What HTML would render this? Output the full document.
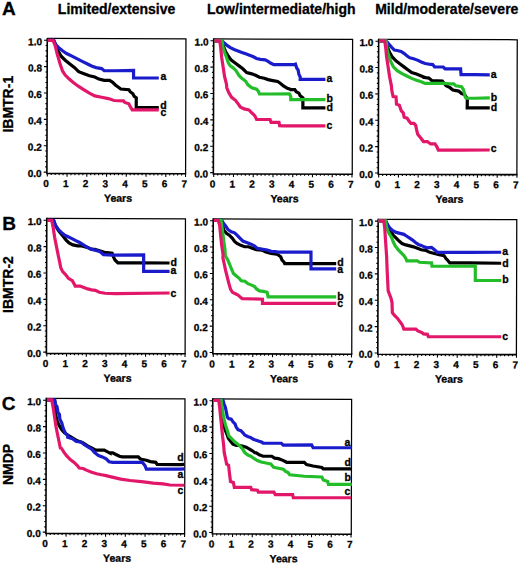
<!DOCTYPE html>
<html><head><meta charset="utf-8"><style>
html,body{margin:0;padding:0;background:#fff;}
svg{display:block;}
text{font-family:"Liberation Sans",sans-serif;font-weight:bold;fill:#000;stroke:#000;stroke-width:0.3px;}
.tl{font-size:10px;}
.yr{font-size:10.5px;}
.lb{font-size:10.5px;}
.hd{font-size:14px;}
.big{font-size:19px;}
</style></head><body>
<svg width="520" height="564" viewBox="0 0 520 564">
<g transform="rotate(0.155 260 282)"><path d="M46.6 39.07H185.3V173.97" fill="none" stroke="#000" stroke-width="1.25"/>
<path d="M46.6 38.47V173.97H185.9" fill="none" stroke="#000" stroke-width="1.6"/>
<path d="M46.6 172.72h-3.2M46.6 167.45h-1.7M46.6 162.17h-1.7M46.6 156.9h-1.7M46.6 151.62h-1.7M46.6 146.35h-3.2M46.6 141.08h-1.7M46.6 135.8h-1.7M46.6 130.53h-1.7M46.6 125.25h-1.7M46.6 119.98h-3.2M46.6 114.71h-1.7M46.6 109.43h-1.7M46.6 104.16h-1.7M46.6 98.88h-1.7M46.6 93.61h-3.2M46.6 88.34h-1.7M46.6 83.06h-1.7M46.6 77.79h-1.7M46.6 72.51h-1.7M46.6 67.24h-3.2M46.6 61.97h-1.7M46.6 56.69h-1.7M46.6 51.42h-1.7M46.6 46.14h-1.7M46.6 40.87h-3.2M47 173.97v3.2M50.95 173.97v1.7M54.9 173.97v1.7M58.85 173.97v1.7M62.8 173.97v1.7M66.75 173.97v3.2M70.7 173.97v1.7M74.65 173.97v1.7M78.6 173.97v1.7M82.55 173.97v1.7M86.5 173.97v3.2M90.45 173.97v1.7M94.4 173.97v1.7M98.35 173.97v1.7M102.3 173.97v1.7M106.25 173.97v3.2M110.2 173.97v1.7M114.15 173.97v1.7M118.1 173.97v1.7M122.05 173.97v1.7M126 173.97v3.2M129.95 173.97v1.7M133.9 173.97v1.7M137.85 173.97v1.7M141.8 173.97v1.7M145.75 173.97v3.2M149.7 173.97v1.7M153.65 173.97v1.7M157.6 173.97v1.7M161.55 173.97v1.7M165.5 173.97v3.2M169.45 173.97v1.7M173.4 173.97v1.7M177.35 173.97v1.7M181.3 173.97v1.7M185.25 173.97v3.2" stroke="#000" stroke-width="1.1" fill="none"/>
<text x="41.4" y="177.62" text-anchor="end" class="tl">0.0</text>
<text x="41.4" y="151.25" text-anchor="end" class="tl">0.2</text>
<text x="41.4" y="124.88" text-anchor="end" class="tl">0.4</text>
<text x="41.4" y="98.51" text-anchor="end" class="tl">0.6</text>
<text x="41.4" y="72.14" text-anchor="end" class="tl">0.8</text>
<text x="41.4" y="45.77" text-anchor="end" class="tl">1.0</text>
<text x="45.8" y="187.57" text-anchor="middle" class="tl">0</text>
<text x="65.55" y="187.57" text-anchor="middle" class="tl">1</text>
<text x="85.3" y="187.57" text-anchor="middle" class="tl">2</text>
<text x="105.05" y="187.57" text-anchor="middle" class="tl">3</text>
<text x="124.8" y="187.57" text-anchor="middle" class="tl">4</text>
<text x="144.55" y="187.57" text-anchor="middle" class="tl">5</text>
<text x="164.3" y="187.57" text-anchor="middle" class="tl">6</text>
<text x="184.05" y="187.57" text-anchor="middle" class="tl">7</text>
<text x="117.8" y="202.17" text-anchor="middle" class="yr">Years</text>
<path d="M213.05 39.07H351.95V173.97" fill="none" stroke="#000" stroke-width="1.25"/>
<path d="M213.05 38.47V173.97H352.55" fill="none" stroke="#000" stroke-width="1.6"/>
<path d="M213.05 172.72h-3.2M213.05 167.45h-1.7M213.05 162.17h-1.7M213.05 156.9h-1.7M213.05 151.62h-1.7M213.05 146.35h-3.2M213.05 141.08h-1.7M213.05 135.8h-1.7M213.05 130.53h-1.7M213.05 125.25h-1.7M213.05 119.98h-3.2M213.05 114.71h-1.7M213.05 109.43h-1.7M213.05 104.16h-1.7M213.05 98.88h-1.7M213.05 93.61h-3.2M213.05 88.34h-1.7M213.05 83.06h-1.7M213.05 77.79h-1.7M213.05 72.51h-1.7M213.05 67.24h-3.2M213.05 61.97h-1.7M213.05 56.69h-1.7M213.05 51.42h-1.7M213.05 46.14h-1.7M213.05 40.87h-3.2M213.45 173.97v3.2M217.4 173.97v1.7M221.35 173.97v1.7M225.3 173.97v1.7M229.25 173.97v1.7M233.2 173.97v3.2M237.15 173.97v1.7M241.1 173.97v1.7M245.05 173.97v1.7M249 173.97v1.7M252.95 173.97v3.2M256.9 173.97v1.7M260.85 173.97v1.7M264.8 173.97v1.7M268.75 173.97v1.7M272.7 173.97v3.2M276.65 173.97v1.7M280.6 173.97v1.7M284.55 173.97v1.7M288.5 173.97v1.7M292.45 173.97v3.2M296.4 173.97v1.7M300.35 173.97v1.7M304.3 173.97v1.7M308.25 173.97v1.7M312.2 173.97v3.2M316.15 173.97v1.7M320.1 173.97v1.7M324.05 173.97v1.7M328 173.97v1.7M331.95 173.97v3.2M335.9 173.97v1.7M339.85 173.97v1.7M343.8 173.97v1.7M347.75 173.97v1.7M351.7 173.97v3.2" stroke="#000" stroke-width="1.1" fill="none"/>
<text x="207.85" y="177.62" text-anchor="end" class="tl">0.0</text>
<text x="207.85" y="151.25" text-anchor="end" class="tl">0.2</text>
<text x="207.85" y="124.88" text-anchor="end" class="tl">0.4</text>
<text x="207.85" y="98.51" text-anchor="end" class="tl">0.6</text>
<text x="207.85" y="72.14" text-anchor="end" class="tl">0.8</text>
<text x="207.85" y="45.77" text-anchor="end" class="tl">1.0</text>
<text x="212.25" y="187.57" text-anchor="middle" class="tl">0</text>
<text x="232" y="187.57" text-anchor="middle" class="tl">1</text>
<text x="251.75" y="187.57" text-anchor="middle" class="tl">2</text>
<text x="271.5" y="187.57" text-anchor="middle" class="tl">3</text>
<text x="291.25" y="187.57" text-anchor="middle" class="tl">4</text>
<text x="311" y="187.57" text-anchor="middle" class="tl">5</text>
<text x="330.75" y="187.57" text-anchor="middle" class="tl">6</text>
<text x="350.5" y="187.57" text-anchor="middle" class="tl">7</text>
<text x="284.25" y="202.17" text-anchor="middle" class="yr">Years</text>
<path d="M378 39.07H516.6V173.97" fill="none" stroke="#000" stroke-width="1.25"/>
<path d="M378 38.47V173.97H517.2" fill="none" stroke="#000" stroke-width="1.6"/>
<path d="M378 172.72h-3.2M378 167.45h-1.7M378 162.17h-1.7M378 156.9h-1.7M378 151.62h-1.7M378 146.35h-3.2M378 141.08h-1.7M378 135.8h-1.7M378 130.53h-1.7M378 125.25h-1.7M378 119.98h-3.2M378 114.71h-1.7M378 109.43h-1.7M378 104.16h-1.7M378 98.88h-1.7M378 93.61h-3.2M378 88.34h-1.7M378 83.06h-1.7M378 77.79h-1.7M378 72.51h-1.7M378 67.24h-3.2M378 61.97h-1.7M378 56.69h-1.7M378 51.42h-1.7M378 46.14h-1.7M378 40.87h-3.2M378.4 173.97v3.2M382.35 173.97v1.7M386.3 173.97v1.7M390.25 173.97v1.7M394.2 173.97v1.7M398.15 173.97v3.2M402.1 173.97v1.7M406.05 173.97v1.7M410 173.97v1.7M413.95 173.97v1.7M417.9 173.97v3.2M421.85 173.97v1.7M425.8 173.97v1.7M429.75 173.97v1.7M433.7 173.97v1.7M437.65 173.97v3.2M441.6 173.97v1.7M445.55 173.97v1.7M449.5 173.97v1.7M453.45 173.97v1.7M457.4 173.97v3.2M461.35 173.97v1.7M465.3 173.97v1.7M469.25 173.97v1.7M473.2 173.97v1.7M477.15 173.97v3.2M481.1 173.97v1.7M485.05 173.97v1.7M489 173.97v1.7M492.95 173.97v1.7M496.9 173.97v3.2M500.85 173.97v1.7M504.8 173.97v1.7M508.75 173.97v1.7M512.7 173.97v1.7M516.65 173.97v3.2" stroke="#000" stroke-width="1.1" fill="none"/>
<text x="372.8" y="177.62" text-anchor="end" class="tl">0.0</text>
<text x="372.8" y="151.25" text-anchor="end" class="tl">0.2</text>
<text x="372.8" y="124.88" text-anchor="end" class="tl">0.4</text>
<text x="372.8" y="98.51" text-anchor="end" class="tl">0.6</text>
<text x="372.8" y="72.14" text-anchor="end" class="tl">0.8</text>
<text x="372.8" y="45.77" text-anchor="end" class="tl">1.0</text>
<text x="377.2" y="187.57" text-anchor="middle" class="tl">0</text>
<text x="396.95" y="187.57" text-anchor="middle" class="tl">1</text>
<text x="416.7" y="187.57" text-anchor="middle" class="tl">2</text>
<text x="436.45" y="187.57" text-anchor="middle" class="tl">3</text>
<text x="456.2" y="187.57" text-anchor="middle" class="tl">4</text>
<text x="475.95" y="187.57" text-anchor="middle" class="tl">5</text>
<text x="495.7" y="187.57" text-anchor="middle" class="tl">6</text>
<text x="515.45" y="187.57" text-anchor="middle" class="tl">7</text>
<text x="449.2" y="202.17" text-anchor="middle" class="yr">Years</text>
<path d="M46.6 219.03H185.3V353.93" fill="none" stroke="#000" stroke-width="1.25"/>
<path d="M46.6 218.43V353.93H185.9" fill="none" stroke="#000" stroke-width="1.6"/>
<path d="M46.6 352.68h-3.2M46.6 347.41h-1.7M46.6 342.13h-1.7M46.6 336.86h-1.7M46.6 331.58h-1.7M46.6 326.31h-3.2M46.6 321.04h-1.7M46.6 315.76h-1.7M46.6 310.49h-1.7M46.6 305.21h-1.7M46.6 299.94h-3.2M46.6 294.67h-1.7M46.6 289.39h-1.7M46.6 284.12h-1.7M46.6 278.84h-1.7M46.6 273.57h-3.2M46.6 268.3h-1.7M46.6 263.02h-1.7M46.6 257.75h-1.7M46.6 252.47h-1.7M46.6 247.2h-3.2M46.6 241.93h-1.7M46.6 236.65h-1.7M46.6 231.38h-1.7M46.6 226.1h-1.7M46.6 220.83h-3.2M47 353.93v3.2M50.95 353.93v1.7M54.9 353.93v1.7M58.85 353.93v1.7M62.8 353.93v1.7M66.75 353.93v3.2M70.7 353.93v1.7M74.65 353.93v1.7M78.6 353.93v1.7M82.55 353.93v1.7M86.5 353.93v3.2M90.45 353.93v1.7M94.4 353.93v1.7M98.35 353.93v1.7M102.3 353.93v1.7M106.25 353.93v3.2M110.2 353.93v1.7M114.15 353.93v1.7M118.1 353.93v1.7M122.05 353.93v1.7M126 353.93v3.2M129.95 353.93v1.7M133.9 353.93v1.7M137.85 353.93v1.7M141.8 353.93v1.7M145.75 353.93v3.2M149.7 353.93v1.7M153.65 353.93v1.7M157.6 353.93v1.7M161.55 353.93v1.7M165.5 353.93v3.2M169.45 353.93v1.7M173.4 353.93v1.7M177.35 353.93v1.7M181.3 353.93v1.7M185.25 353.93v3.2" stroke="#000" stroke-width="1.1" fill="none"/>
<text x="41.4" y="357.58" text-anchor="end" class="tl">0.0</text>
<text x="41.4" y="331.21" text-anchor="end" class="tl">0.2</text>
<text x="41.4" y="304.84" text-anchor="end" class="tl">0.4</text>
<text x="41.4" y="278.47" text-anchor="end" class="tl">0.6</text>
<text x="41.4" y="252.1" text-anchor="end" class="tl">0.8</text>
<text x="41.4" y="225.73" text-anchor="end" class="tl">1.0</text>
<text x="45.8" y="367.53" text-anchor="middle" class="tl">0</text>
<text x="65.55" y="367.53" text-anchor="middle" class="tl">1</text>
<text x="85.3" y="367.53" text-anchor="middle" class="tl">2</text>
<text x="105.05" y="367.53" text-anchor="middle" class="tl">3</text>
<text x="124.8" y="367.53" text-anchor="middle" class="tl">4</text>
<text x="144.55" y="367.53" text-anchor="middle" class="tl">5</text>
<text x="164.3" y="367.53" text-anchor="middle" class="tl">6</text>
<text x="184.05" y="367.53" text-anchor="middle" class="tl">7</text>
<text x="117.8" y="382.13" text-anchor="middle" class="yr">Years</text>
<path d="M213.05 219.03H351.95V353.93" fill="none" stroke="#000" stroke-width="1.25"/>
<path d="M213.05 218.43V353.93H352.55" fill="none" stroke="#000" stroke-width="1.6"/>
<path d="M213.05 352.68h-3.2M213.05 347.41h-1.7M213.05 342.13h-1.7M213.05 336.86h-1.7M213.05 331.58h-1.7M213.05 326.31h-3.2M213.05 321.04h-1.7M213.05 315.76h-1.7M213.05 310.49h-1.7M213.05 305.21h-1.7M213.05 299.94h-3.2M213.05 294.67h-1.7M213.05 289.39h-1.7M213.05 284.12h-1.7M213.05 278.84h-1.7M213.05 273.57h-3.2M213.05 268.3h-1.7M213.05 263.02h-1.7M213.05 257.75h-1.7M213.05 252.47h-1.7M213.05 247.2h-3.2M213.05 241.93h-1.7M213.05 236.65h-1.7M213.05 231.38h-1.7M213.05 226.1h-1.7M213.05 220.83h-3.2M213.45 353.93v3.2M217.4 353.93v1.7M221.35 353.93v1.7M225.3 353.93v1.7M229.25 353.93v1.7M233.2 353.93v3.2M237.15 353.93v1.7M241.1 353.93v1.7M245.05 353.93v1.7M249 353.93v1.7M252.95 353.93v3.2M256.9 353.93v1.7M260.85 353.93v1.7M264.8 353.93v1.7M268.75 353.93v1.7M272.7 353.93v3.2M276.65 353.93v1.7M280.6 353.93v1.7M284.55 353.93v1.7M288.5 353.93v1.7M292.45 353.93v3.2M296.4 353.93v1.7M300.35 353.93v1.7M304.3 353.93v1.7M308.25 353.93v1.7M312.2 353.93v3.2M316.15 353.93v1.7M320.1 353.93v1.7M324.05 353.93v1.7M328 353.93v1.7M331.95 353.93v3.2M335.9 353.93v1.7M339.85 353.93v1.7M343.8 353.93v1.7M347.75 353.93v1.7M351.7 353.93v3.2" stroke="#000" stroke-width="1.1" fill="none"/>
<text x="207.85" y="357.58" text-anchor="end" class="tl">0.0</text>
<text x="207.85" y="331.21" text-anchor="end" class="tl">0.2</text>
<text x="207.85" y="304.84" text-anchor="end" class="tl">0.4</text>
<text x="207.85" y="278.47" text-anchor="end" class="tl">0.6</text>
<text x="207.85" y="252.1" text-anchor="end" class="tl">0.8</text>
<text x="207.85" y="225.73" text-anchor="end" class="tl">1.0</text>
<text x="212.25" y="367.53" text-anchor="middle" class="tl">0</text>
<text x="232" y="367.53" text-anchor="middle" class="tl">1</text>
<text x="251.75" y="367.53" text-anchor="middle" class="tl">2</text>
<text x="271.5" y="367.53" text-anchor="middle" class="tl">3</text>
<text x="291.25" y="367.53" text-anchor="middle" class="tl">4</text>
<text x="311" y="367.53" text-anchor="middle" class="tl">5</text>
<text x="330.75" y="367.53" text-anchor="middle" class="tl">6</text>
<text x="350.5" y="367.53" text-anchor="middle" class="tl">7</text>
<text x="284.25" y="382.13" text-anchor="middle" class="yr">Years</text>
<path d="M378 219.03H516.6V353.93" fill="none" stroke="#000" stroke-width="1.25"/>
<path d="M378 218.43V353.93H517.2" fill="none" stroke="#000" stroke-width="1.6"/>
<path d="M378 352.68h-3.2M378 347.41h-1.7M378 342.13h-1.7M378 336.86h-1.7M378 331.58h-1.7M378 326.31h-3.2M378 321.04h-1.7M378 315.76h-1.7M378 310.49h-1.7M378 305.21h-1.7M378 299.94h-3.2M378 294.67h-1.7M378 289.39h-1.7M378 284.12h-1.7M378 278.84h-1.7M378 273.57h-3.2M378 268.3h-1.7M378 263.02h-1.7M378 257.75h-1.7M378 252.47h-1.7M378 247.2h-3.2M378 241.93h-1.7M378 236.65h-1.7M378 231.38h-1.7M378 226.1h-1.7M378 220.83h-3.2M378.4 353.93v3.2M382.35 353.93v1.7M386.3 353.93v1.7M390.25 353.93v1.7M394.2 353.93v1.7M398.15 353.93v3.2M402.1 353.93v1.7M406.05 353.93v1.7M410 353.93v1.7M413.95 353.93v1.7M417.9 353.93v3.2M421.85 353.93v1.7M425.8 353.93v1.7M429.75 353.93v1.7M433.7 353.93v1.7M437.65 353.93v3.2M441.6 353.93v1.7M445.55 353.93v1.7M449.5 353.93v1.7M453.45 353.93v1.7M457.4 353.93v3.2M461.35 353.93v1.7M465.3 353.93v1.7M469.25 353.93v1.7M473.2 353.93v1.7M477.15 353.93v3.2M481.1 353.93v1.7M485.05 353.93v1.7M489 353.93v1.7M492.95 353.93v1.7M496.9 353.93v3.2M500.85 353.93v1.7M504.8 353.93v1.7M508.75 353.93v1.7M512.7 353.93v1.7M516.65 353.93v3.2" stroke="#000" stroke-width="1.1" fill="none"/>
<text x="372.8" y="357.58" text-anchor="end" class="tl">0.0</text>
<text x="372.8" y="331.21" text-anchor="end" class="tl">0.2</text>
<text x="372.8" y="304.84" text-anchor="end" class="tl">0.4</text>
<text x="372.8" y="278.47" text-anchor="end" class="tl">0.6</text>
<text x="372.8" y="252.1" text-anchor="end" class="tl">0.8</text>
<text x="372.8" y="225.73" text-anchor="end" class="tl">1.0</text>
<text x="377.2" y="367.53" text-anchor="middle" class="tl">0</text>
<text x="396.95" y="367.53" text-anchor="middle" class="tl">1</text>
<text x="416.7" y="367.53" text-anchor="middle" class="tl">2</text>
<text x="436.45" y="367.53" text-anchor="middle" class="tl">3</text>
<text x="456.2" y="367.53" text-anchor="middle" class="tl">4</text>
<text x="475.95" y="367.53" text-anchor="middle" class="tl">5</text>
<text x="495.7" y="367.53" text-anchor="middle" class="tl">6</text>
<text x="515.45" y="367.53" text-anchor="middle" class="tl">7</text>
<text x="449.2" y="382.13" text-anchor="middle" class="yr">Years</text>
<path d="M46.6 399.05H185.3V533.95" fill="none" stroke="#000" stroke-width="1.25"/>
<path d="M46.6 398.45V533.95H185.9" fill="none" stroke="#000" stroke-width="1.6"/>
<path d="M46.6 532.7h-3.2M46.6 527.43h-1.7M46.6 522.15h-1.7M46.6 516.88h-1.7M46.6 511.6h-1.7M46.6 506.33h-3.2M46.6 501.06h-1.7M46.6 495.78h-1.7M46.6 490.51h-1.7M46.6 485.23h-1.7M46.6 479.96h-3.2M46.6 474.69h-1.7M46.6 469.41h-1.7M46.6 464.14h-1.7M46.6 458.86h-1.7M46.6 453.59h-3.2M46.6 448.32h-1.7M46.6 443.04h-1.7M46.6 437.77h-1.7M46.6 432.49h-1.7M46.6 427.22h-3.2M46.6 421.95h-1.7M46.6 416.67h-1.7M46.6 411.4h-1.7M46.6 406.12h-1.7M46.6 400.85h-3.2M47 533.95v3.2M50.95 533.95v1.7M54.9 533.95v1.7M58.85 533.95v1.7M62.8 533.95v1.7M66.75 533.95v3.2M70.7 533.95v1.7M74.65 533.95v1.7M78.6 533.95v1.7M82.55 533.95v1.7M86.5 533.95v3.2M90.45 533.95v1.7M94.4 533.95v1.7M98.35 533.95v1.7M102.3 533.95v1.7M106.25 533.95v3.2M110.2 533.95v1.7M114.15 533.95v1.7M118.1 533.95v1.7M122.05 533.95v1.7M126 533.95v3.2M129.95 533.95v1.7M133.9 533.95v1.7M137.85 533.95v1.7M141.8 533.95v1.7M145.75 533.95v3.2M149.7 533.95v1.7M153.65 533.95v1.7M157.6 533.95v1.7M161.55 533.95v1.7M165.5 533.95v3.2M169.45 533.95v1.7M173.4 533.95v1.7M177.35 533.95v1.7M181.3 533.95v1.7M185.25 533.95v3.2" stroke="#000" stroke-width="1.1" fill="none"/>
<text x="41.4" y="537.6" text-anchor="end" class="tl">0.0</text>
<text x="41.4" y="511.23" text-anchor="end" class="tl">0.2</text>
<text x="41.4" y="484.86" text-anchor="end" class="tl">0.4</text>
<text x="41.4" y="458.49" text-anchor="end" class="tl">0.6</text>
<text x="41.4" y="432.12" text-anchor="end" class="tl">0.8</text>
<text x="41.4" y="405.75" text-anchor="end" class="tl">1.0</text>
<text x="45.8" y="547.55" text-anchor="middle" class="tl">0</text>
<text x="65.55" y="547.55" text-anchor="middle" class="tl">1</text>
<text x="85.3" y="547.55" text-anchor="middle" class="tl">2</text>
<text x="105.05" y="547.55" text-anchor="middle" class="tl">3</text>
<text x="124.8" y="547.55" text-anchor="middle" class="tl">4</text>
<text x="144.55" y="547.55" text-anchor="middle" class="tl">5</text>
<text x="164.3" y="547.55" text-anchor="middle" class="tl">6</text>
<text x="184.05" y="547.55" text-anchor="middle" class="tl">7</text>
<text x="117.8" y="562.15" text-anchor="middle" class="yr">Years</text>
<path d="M213.05 399.05H351.95V533.95" fill="none" stroke="#000" stroke-width="1.25"/>
<path d="M213.05 398.45V533.95H352.55" fill="none" stroke="#000" stroke-width="1.6"/>
<path d="M213.05 532.7h-3.2M213.05 527.43h-1.7M213.05 522.15h-1.7M213.05 516.88h-1.7M213.05 511.6h-1.7M213.05 506.33h-3.2M213.05 501.06h-1.7M213.05 495.78h-1.7M213.05 490.51h-1.7M213.05 485.23h-1.7M213.05 479.96h-3.2M213.05 474.69h-1.7M213.05 469.41h-1.7M213.05 464.14h-1.7M213.05 458.86h-1.7M213.05 453.59h-3.2M213.05 448.32h-1.7M213.05 443.04h-1.7M213.05 437.77h-1.7M213.05 432.49h-1.7M213.05 427.22h-3.2M213.05 421.95h-1.7M213.05 416.67h-1.7M213.05 411.4h-1.7M213.05 406.12h-1.7M213.05 400.85h-3.2M213.45 533.95v3.2M217.4 533.95v1.7M221.35 533.95v1.7M225.3 533.95v1.7M229.25 533.95v1.7M233.2 533.95v3.2M237.15 533.95v1.7M241.1 533.95v1.7M245.05 533.95v1.7M249 533.95v1.7M252.95 533.95v3.2M256.9 533.95v1.7M260.85 533.95v1.7M264.8 533.95v1.7M268.75 533.95v1.7M272.7 533.95v3.2M276.65 533.95v1.7M280.6 533.95v1.7M284.55 533.95v1.7M288.5 533.95v1.7M292.45 533.95v3.2M296.4 533.95v1.7M300.35 533.95v1.7M304.3 533.95v1.7M308.25 533.95v1.7M312.2 533.95v3.2M316.15 533.95v1.7M320.1 533.95v1.7M324.05 533.95v1.7M328 533.95v1.7M331.95 533.95v3.2M335.9 533.95v1.7M339.85 533.95v1.7M343.8 533.95v1.7M347.75 533.95v1.7M351.7 533.95v3.2" stroke="#000" stroke-width="1.1" fill="none"/>
<text x="207.85" y="537.6" text-anchor="end" class="tl">0.0</text>
<text x="207.85" y="511.23" text-anchor="end" class="tl">0.2</text>
<text x="207.85" y="484.86" text-anchor="end" class="tl">0.4</text>
<text x="207.85" y="458.49" text-anchor="end" class="tl">0.6</text>
<text x="207.85" y="432.12" text-anchor="end" class="tl">0.8</text>
<text x="207.85" y="405.75" text-anchor="end" class="tl">1.0</text>
<text x="212.25" y="547.55" text-anchor="middle" class="tl">0</text>
<text x="232" y="547.55" text-anchor="middle" class="tl">1</text>
<text x="251.75" y="547.55" text-anchor="middle" class="tl">2</text>
<text x="271.5" y="547.55" text-anchor="middle" class="tl">3</text>
<text x="291.25" y="547.55" text-anchor="middle" class="tl">4</text>
<text x="311" y="547.55" text-anchor="middle" class="tl">5</text>
<text x="330.75" y="547.55" text-anchor="middle" class="tl">6</text>
<text x="350.5" y="547.55" text-anchor="middle" class="tl">7</text>
<text x="284.25" y="562.15" text-anchor="middle" class="yr">Years</text></g>
<path d="M47.69 40.44 53.75 40.44 55.77 45.42 58.46 51.48 61.15 56.19 65.19 60.23 69.23 63.6 74.62 67.63 78.65 71.67 84.04 73.69 89.42 75.71 94.81 77.06 98.85 79.08 104.23 80.42 109.62 80.42 112.69 82.31 115.38 85 118.08 87.02 120.77 89.04 128.85 89.71 130.19 91.73 132.88 93.75 134.23 96.44 136.25 97.79 136.25 107.62 158.79 107.62" fill="none" stroke="#000" stroke-width="3.2" stroke-linejoin="miter" stroke-linecap="butt"/>
<path d="M47.69 40.44 53.75 40.44 55.77 44.75 58.46 47.44 62.5 50.81 66.54 53.5 71.92 56.19 77.31 58.88 82.69 61.58 88.08 64.27 92.12 66.29 96.15 67.63 101.54 68.58 104.23 70.73 115 70.73 133.56 70.46 133.56 78 158.79 78" fill="none" stroke="#1a1ccc" stroke-width="3.2" stroke-linejoin="miter" stroke-linecap="butt"/>
<path d="M47.69 40.44 53.08 40.44 55.1 45.42 57.12 53.5 59.81 62.92 62.5 71 65.19 75.04 69.23 79.08 73.27 82.44 78.65 86.48 84.04 89.85 89.42 93.21 94.81 95.9 101.54 97.25 108.27 98.6 114.04 100.48 123.46 100.88 124.81 102.5 128.85 103.85 130.19 106.54 132.21 109.9 158.79 109.9" fill="none" stroke="#e2176a" stroke-width="3.2" stroke-linejoin="miter" stroke-linecap="butt"/>
<text x="160.5" y="80.3" class="lb">a</text>
<text x="160.2" y="108.7" class="lb">d</text>
<text x="160.4" y="115.5" class="lb">c</text>
<path d="M214.44 40.88 222.13 40.88 223.58 46.65 225.5 51.46 228.38 56.27 231.27 60.12 235.12 63 238.96 65.88 242.81 68.77 246.65 72.62 251.73 73.85 255.58 75.29 259.42 77.21 264.23 78.17 268.08 79.62 272.88 80.58 277.69 81.54 280.58 83.46 283.46 85.87 287.31 88.27 290.19 89.23 290.77 89.71 294.81 89.71 296.15 91.73 298.85 93.08 300.19 95.77 302.88 97.79 302.88 107.88 325.42 107.88" fill="none" stroke="#000" stroke-width="3.2" stroke-linejoin="miter" stroke-linecap="butt"/>
<path d="M214.44 40.88 222.13 40.88 224.54 43.29 227.42 45.69 230.31 47.62 234.15 49.54 238 50.98 241.85 52.42 245.69 53.87 249.54 55.31 253.38 56.75 256.54 58.46 260.38 59.42 265.19 59.9 268.08 61.35 270.96 63.27 273.85 64.71 294.04 64.71 295.48 64.13 296.83 68.17 298.17 70.19 298.85 74.23 300.19 76.92 300.19 79.35 325.42 79.35" fill="none" stroke="#1a1ccc" stroke-width="3.2" stroke-linejoin="miter" stroke-linecap="butt"/>
<path d="M214.44 40.88 222.13 40.88 223.1 47.62 224.54 52.42 226.46 57.23 228.38 63 230.31 65.88 233.19 67.81 236.08 70.69 238.96 75.5 241.85 78.38 245.69 81.27 247.96 84.88 251.81 87.77 256.62 89.21 258.54 91.62 259.5 94.02 272 94.02 289.42 93.75 290.77 96.44 290.77 99.54 325.42 99.54" fill="none" stroke="#22bd28" stroke-width="3.2" stroke-linejoin="miter" stroke-linecap="butt"/>
<path d="M214.44 40.88 219.73 40.88 220.69 47.62 221.65 57.23 223.1 66.85 224.54 76.46 226.46 84.15 226.81 87.77 228.73 92.58 231.62 97.38 235.46 100.27 238.35 104.12 240.27 107 244.12 108.92 248.92 109.88 251.81 112.77 254.69 115.65 256.62 119.5 270.08 119.5 271.04 122.38 278.96 122.31 279.63 125.67 283 125.9 325.4 125.9" fill="none" stroke="#e2176a" stroke-width="3.2" stroke-linejoin="miter" stroke-linecap="butt"/>
<text x="326.4" y="82.3" class="lb">a</text>
<text x="326.4" y="101.82" class="lb">b</text>
<text x="326.4" y="110.57" class="lb">d</text>
<text x="326.4" y="128.94" class="lb">c</text>
<path d="M379.44 40.88 386.17 40.88 387.62 47.62 389.54 52.42 392.42 57.23 396.27 61.08 400.12 63.96 403.96 66.85 407.81 69.73 411.65 72.62 416.46 74.06 421.27 75.98 425.12 77.42 425 77.6 428.85 78.08 431.73 80.48 442.31 80.96 446.15 85.77 450 87.69 452.88 90.1 458.65 91.06 461.54 93.46 464.42 94.42 466.35 97.31 467.31 99.23 467.21 107.88 489.75 107.88" fill="none" stroke="#000" stroke-width="3.2" stroke-linejoin="miter" stroke-linecap="butt"/>
<path d="M379.44 40.88 386.17 40.88 388.58 43.77 391.46 47.13 394.35 50.02 397.23 50.5 401.08 51.46 403.96 53.38 406.85 55.79 409.73 57.71 413.58 58.67 417.42 60.12 421.27 62.04 425.12 63.48 428 63.96 428.85 64.13 432.69 64.62 434.62 67.02 443.27 67.02 445.19 68.94 460.58 68.94 461.06 74.71 475 74.71 489.75 74.9" fill="none" stroke="#1a1ccc" stroke-width="3.2" stroke-linejoin="miter" stroke-linecap="butt"/>
<path d="M379.44 40.88 386.17 40.88 387.13 49.54 388.58 55.31 390.5 61.08 393.38 66.85 397.23 70.69 402.04 73.58 406.85 75.98 411.65 78.38 416.46 80.31 421.27 81.75 425 83.37 444.23 83.37 450 83.85 453.85 83.85 455.77 85.77 461.54 86.73 463.46 89.62 464.42 93.46 465.38 97.31 466.35 98.27 475 98.27 489.75 97.79" fill="none" stroke="#22bd28" stroke-width="3.2" stroke-linejoin="miter" stroke-linecap="butt"/>
<path d="M379.44 40.88 384.73 40.88 385.69 47.62 386.65 57.23 388.1 66.85 389.54 76.46 391.46 86.08 391.69 89.77 393.13 96.5 396.02 96.98 396.5 104.19 399.38 105.15 401.31 110.92 403.23 112.85 404.19 117.17 407.08 118.13 409 121.02 410.92 123.42 413.81 123.42 415.73 125.35 416.69 130.15 417.69 134.35 420.58 137.71 423.46 141.56 427.31 141.56 430.67 143.96 435 143.96 436.92 146.85 438.37 150.21 460 150.21 489.75 149.98" fill="none" stroke="#e2176a" stroke-width="3.2" stroke-linejoin="miter" stroke-linecap="butt"/>
<text x="490.76" y="77.59" class="lb">a</text>
<text x="490.76" y="101.14" class="lb">b</text>
<text x="490.76" y="111.24" class="lb">d</text>
<text x="490.76" y="152.4" class="lb">c</text>
<path d="M47.4 220.4 53.65 220.4 55.58 225.69 58.46 230.5 62.31 235.31 66.15 240.12 69.04 243 72.88 244.92 77.69 245.88 81.54 245.88 87.31 247.33 91.15 249.25 94.81 249.42 99.62 250.87 104.42 252.31 112.12 253.27 113.56 257.12 115 260 117.88 262.88 140 262.88 169.56 262.98" fill="none" stroke="#000" stroke-width="3.2" stroke-linejoin="miter" stroke-linecap="butt"/>
<path d="M47.4 220.4 53.65 220.4 55.58 225.69 58.46 229.54 61.35 232.42 64.23 234.83 68.08 236.75 71.92 238.67 75.77 240.6 79.62 242.52 83.46 244.92 87.31 247.33 91.15 249.25 95 250.21 94.81 249.9 99.62 251.35 103.46 254.71 113.08 255.19 143.65 254.9 143.65 271.46 169.56 271.46" fill="none" stroke="#1a1ccc" stroke-width="3.2" stroke-linejoin="miter" stroke-linecap="butt"/>
<path d="M47.4 220.4 51.73 220.4 53.17 227.62 54.62 237.23 56.54 246.85 58.46 256.46 59.9 263.19 60.77 267.77 62.69 271.62 65.58 274.5 68.46 278.35 72.31 280.75 74.23 284.12 75.19 286.04 80 286.04 83.85 287.48 87.69 288.92 91.54 289.88 95.38 290.37 99.23 292.29 105 293.25 115 293.56 169.56 293" fill="none" stroke="#e2176a" stroke-width="3.2" stroke-linejoin="miter" stroke-linecap="butt"/>
<text x="170.57" y="265.67" class="lb">d</text>
<text x="170.57" y="274.41" class="lb">a</text>
<text x="170.57" y="296.62" class="lb">c</text>
<path d="M213.92 220.33 221.62 220.33 222.58 225.62 224.02 230.42 226.42 233.31 229.31 235.23 232.19 238.12 234.6 241.48 237 243.4 240.85 245.33 244.69 246.77 248.54 246.77 252.38 248.21 256.23 249.65 262 250.13 265.85 252.02 271.23 253.37 276.62 254.04 278 254.81 280.69 256.83 282.04 260.19 284.06 262.21 284.73 263.56 336.21 263.56" fill="none" stroke="#000" stroke-width="3.2" stroke-linejoin="miter" stroke-linecap="butt"/>
<path d="M213.92 220.33 221.62 220.33 223.06 222.73 225.46 225.62 227.87 229.46 231.23 231.87 234.6 232.83 237 235.23 239.88 238.12 242.77 241 246.62 242.44 250.46 243.88 254.31 245.81 257.19 248.21 262 249.17 267.19 250 271.23 251.35 275.27 251.62 278 252.12 310.98 252.12 310.98 268.94 336.21 268.94" fill="none" stroke="#1a1ccc" stroke-width="3.2" stroke-linejoin="miter" stroke-linecap="butt"/>
<path d="M213.92 220.33 221.13 220.33 222.1 227.54 223.06 235.23 224.02 242.92 224.98 249.65 225.29 255.77 227.69 259.62 229.62 264.42 231.54 269.23 233.46 273.56 236.35 275.96 239.23 278.37 241.15 280.77 245 281.25 247.88 283.65 251.73 285.1 254.62 286.54 256.54 288.94 259.42 290.87 263.27 291.35 267.12 292.31 268.1 296.9 336.2 296.9" fill="none" stroke="#22bd28" stroke-width="3.2" stroke-linejoin="miter" stroke-linecap="butt"/>
<path d="M213.92 220.33 218.25 220.33 219.69 225.62 220.65 235.23 221.62 244.85 223.06 254.46 222.88 257.69 224.33 264.42 225.77 271.15 227.21 276.92 228.65 282.69 230.58 289.42 232.5 292.31 235.38 293.75 238.27 295.19 240.19 297.12 242.12 298.56 262.48 299.23 262.5 303.3 336.2 303.3" fill="none" stroke="#e2176a" stroke-width="3.2" stroke-linejoin="miter" stroke-linecap="butt"/>
<text x="337.22" y="265.57" class="lb">d</text>
<text x="337.22" y="272.97" class="lb">a</text>
<text x="337.22" y="299.89" class="lb">b</text>
<text x="337.22" y="306.62" class="lb">c</text>
<path d="M378.44 220.88 385.65 220.88 387.58 225.69 390.46 231.46 393.35 235.31 396.23 238.19 399.12 241.08 402 243.48 405.85 244.92 409.69 245.88 413.54 246.85 417.38 248.29 421.23 249.73 425.77 250.38 429.62 252.31 433.46 253.27 439.23 254.71 444.04 255.67 445.96 258.56 447.88 260.48 449.81 262.88 470 262.88 501.21 263.27" fill="none" stroke="#000" stroke-width="3.2" stroke-linejoin="miter" stroke-linecap="butt"/>
<path d="M378.44 220.88 385.65 220.88 387.58 224.73 389.5 227.62 392.38 230.5 396.23 232.42 400.08 233.38 403.92 234.35 406.81 236.27 409.69 238.19 412.58 240.12 415.46 242.52 418.35 244.44 421.23 245.4 424.12 246.85 427 247.81 431.54 247.5 435.38 250.38 437.31 252.31 470 252.31 501.21 252.23" fill="none" stroke="#1a1ccc" stroke-width="3.2" stroke-linejoin="miter" stroke-linecap="butt"/>
<path d="M378.44 220.88 385.65 220.88 386.62 227.62 388.54 232.42 391.42 237.23 393.35 242.04 395.27 245.88 398.15 249.73 401.04 252.62 403.92 255.5 405.85 258.38 406.81 260.79 417.38 260.79 419.31 262.23 427 262.71 431.54 262.88 432.02 266.25 470 266.25 475.31 265.96 475.31 280.5 501.21 280.5" fill="none" stroke="#22bd28" stroke-width="3.2" stroke-linejoin="miter" stroke-linecap="butt"/>
<path d="M378.44 220.88 383.73 220.88 384.69 227.62 385.65 242.04 386.62 256.46 387.21 271.62 387.69 281.23 388.17 290.85 389.62 294.69 391.06 298.54 392.02 302.38 392.33 312.69 394.73 315.58 397.62 318.46 400.5 322.31 402.42 325.19 403.87 329.04 415.88 329.04 417.81 330.96 421.65 332.4 423.58 333.85 427.42 334.33 428.38 336.73 438 336.73 501.21 336.75" fill="none" stroke="#e2176a" stroke-width="3.2" stroke-linejoin="miter" stroke-linecap="butt"/>
<text x="502.22" y="255.19" class="lb">a</text>
<text x="502.22" y="266.63" class="lb">d</text>
<text x="502.22" y="283.45" class="lb">b</text>
<text x="502.22" y="339.7" class="lb">c</text>
<path d="M46.92 399.92 54.62 399.92 55.58 407.62 56.06 416.27 57.5 422.04 59.42 425.88 61.83 429.73 64.23 432.62 67.12 434.54 70 436.46 77.31 440.77 82.69 442.79 88.08 446.15 92.12 448.17 95.58 450.19 104.23 450.19 107.12 451.63 110 453.08 110 452.88 112.69 452.88 115.38 454.23 119.42 456.25 122.12 456.92 138.27 456.92 140.29 458.94 146.35 460.29 150.38 461.63 155.77 462.31 157.12 464.33 180 464.6 184.42 464.46" fill="none" stroke="#000" stroke-width="3.2" stroke-linejoin="miter" stroke-linecap="butt"/>
<path d="M46.92 399.92 54.62 399.92 55.58 404.73 57.02 406.65 57.98 412.42 59.42 414.35 59.9 419.15 61.83 423 62.79 426.85 64.23 430.69 65.67 433.58 67.6 435.5 67.69 437.21 72.5 438.65 76.35 441.54 81.15 442.02 84.04 444.42 87.88 446.83 91.73 449.23 94.62 452.6 98.46 455.48 102.31 456.92 106.15 458.85 109.04 461.73 112.69 462.31 142.31 462.31 145 465.67 146.35 469.04 180 469.04 184.42 468.85" fill="none" stroke="#1a1ccc" stroke-width="3.2" stroke-linejoin="miter" stroke-linecap="butt"/>
<path d="M46.92 399.92 51.73 399.92 53.17 407.62 54.62 417.23 56.06 426.85 57.98 436.46 60.38 448 61.44 448.27 63.85 452.12 66.73 455.96 70.58 459.81 74.42 462.69 77.31 465.58 79.23 467.98 83.08 468.46 86.92 470.38 91.73 472.31 96.54 473.75 101.35 474.71 106.15 475.67 110 476.63 120.77 479.13 130.19 480.48 143.65 481.83 153.08 483.17 163.08 483.85 170 485 184.42 485.23" fill="none" stroke="#e2176a" stroke-width="3.2" stroke-linejoin="miter" stroke-linecap="butt"/>
<text x="177.2" y="461.3" class="lb">d</text>
<text x="177.5" y="478.1" class="lb">a</text>
<text x="177.5" y="493.6" class="lb">c</text>
<path d="M213.92 400.4 220.65 400.4 221.62 407.62 222.58 417.23 223.54 424.92 225.46 430.69 227.38 435.5 228.3 438.3 230.6 441.2 232.9 444.1 236.4 445.3 239.8 445.5 243.3 446.4 246.2 447.2 249.1 448.8 252 450.6 254.9 452.8 256.35 452.88 259.23 454.81 263.08 456.25 271.73 456.25 274.62 458.17 278.46 458.65 282.31 460.1 286.15 462.02 286.77 462.38 304.31 462.38 306.5 464.58 313.08 466.04 321.85 467.5 323.31 468.96 351.81 468.96" fill="none" stroke="#000" stroke-width="3.2" stroke-linejoin="miter" stroke-linecap="butt"/>
<path d="M213.92 400.4 223.06 400.4 224.02 403.77 225.46 407.62 226.42 412.42 227.38 417.23 228.83 418.67 231.23 419.15 233.15 422.04 235.08 423.96 236.04 426.85 237.96 429.73 240.85 430.69 242.77 432.62 244.69 435.02 247.58 436.46 250.46 437.42 253.35 439.35 256.23 440.31 259.12 441.27 262 442.23 263.08 443.27 281.35 443.27 283.27 445.19 311.62 444.85 313.08 447.77 351.81 447.77" fill="none" stroke="#1a1ccc" stroke-width="3.2" stroke-linejoin="miter" stroke-linecap="butt"/>
<path d="M213.92 400.4 221.13 400.4 222.1 407.62 223.54 417.23 225.46 424.92 227.38 430.69 228.9 436 231.8 438.9 234.7 441.8 237.5 444.1 240.4 446.4 242.7 449.3 245 452.8 247.9 455.1 250.8 456.2 253.7 458.2 257.31 460.58 261.15 462.02 265.96 462.98 270.77 463.94 273.65 467.31 278.46 468.27 283.27 469.23 285.19 471.15 288.08 472.6 289.69 474.81 304.31 476.27 321.85 477 323.31 479.92 327.69 481.38 328.42 484.31 351.81 484.31" fill="none" stroke="#22bd28" stroke-width="3.2" stroke-linejoin="miter" stroke-linecap="butt"/>
<path d="M213.92 400.4 218.73 400.4 219.69 407.62 220.65 417.23 221.62 426.85 222.58 436.46 223.54 444.15 224.25 452.69 225.69 459.42 226.65 464.23 228.58 465.19 229.54 473.85 230.5 481.54 233.38 482.5 234.35 487.31 250.69 487.31 251.65 489.71 257.42 490.19 258.38 492.12 273.92 492.02 275.27 494.71 282 494.71 292.62 494.55 293.35 497.77 351.08 497.77" fill="none" stroke="#e2176a" stroke-width="3.2" stroke-linejoin="miter" stroke-linecap="butt"/>
<text x="344.5" y="445.6" class="lb">a</text>
<text x="344.5" y="466" class="lb">d</text>
<text x="344.5" y="481.4" class="lb">b</text>
<text x="344.5" y="494.6" class="lb">c</text>
<text x="2" y="15" class="big">A</text>
<text x="2.2" y="229.6" class="big">B</text>
<text x="1.8" y="410.3" class="big">C</text>
<text x="116.6" y="14" text-anchor="middle" class="hd">Limited/extensive</text>
<text x="281.3" y="14" text-anchor="middle" class="hd">Low/intermediate/high</text>
<text x="446.8" y="14" text-anchor="middle" class="hd">Mild/moderate/severe</text>
<text transform="translate(13.1 104.2) rotate(-90)" text-anchor="middle" class="hd">IBMTR-1</text>
<text transform="translate(13.1 284.5) rotate(-90)" text-anchor="middle" class="hd">IBMTR-2</text>
<text transform="translate(13.1 464.5) rotate(-90)" text-anchor="middle" class="hd">NMDP</text>
</svg></body></html>
